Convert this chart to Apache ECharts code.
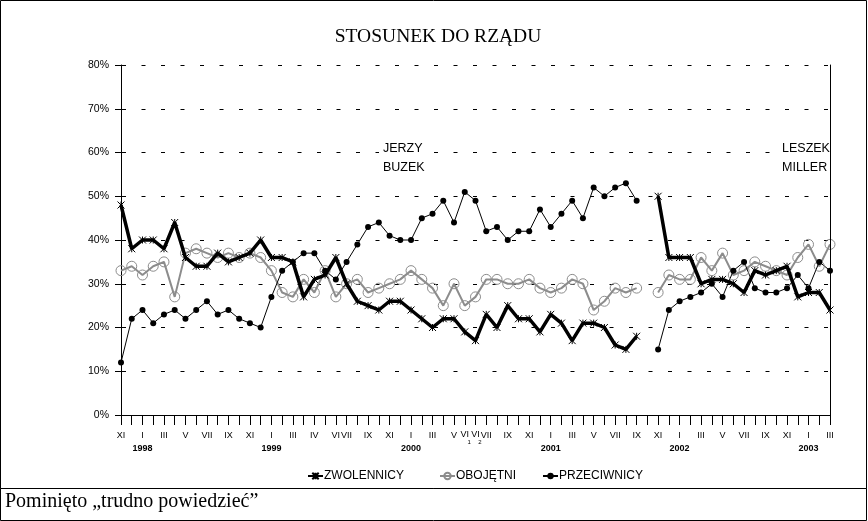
<!DOCTYPE html>
<html>
<head>
<meta charset="utf-8">
<script src="https://cdn.jsdelivr.net/npm/echarts@6.0.0/dist/echarts.min.js"></script>
<style>
  html, body { margin: 0; padding: 0; background: #fff; }
  #chart { width: 868px; height: 521px; }
</style>
</head>
<body>
<div id="chart"></div>
<script>
// kolejne badania: XI 1997 ... III 2003 (X 2001 brak)
const tickLabels = [
  'XI', '', 'I', '', 'III', '', 'V', '', 'VII', '', 'IX', '', 'XI', '',
  'I', '', 'III', '', 'IV', '', 'VI', 'VII', '', 'IX', '', 'XI', '',
  'I', '', 'III', '', 'V', 'VI1', 'VI2', 'VII', '', 'IX', '', 'XI', '',
  'I', '', 'III', '', 'V', '', 'VII', '', 'IX', '', 'XI', '',
  'I', '', 'III', '', 'V', '', 'VII', '', 'IX', '', 'XI', '',
  'I', '', 'III'
];
const yearLabels = { 2: '1998', 14: '1999', 27: '2000', 40: '2001', 52: '2002', 64: '2003' };
const categories = tickLabels.map((_, i) => 'p' + i);

const zwolennicy = [
  48, 38, 40, 40, 38, 44, 36, 34, 34, 37, 35, 36, 37, 40,
  36, 36, 35, 27, 31, 32, 36, 30, 26, 25, 24, 26, 26,
  24, 22, 20, 22, 22, 19, 17, 23, 20, 25, 22, 22, 19,
  23, 21, 17, 21, 21, 20, 16, 15, 18, null, 50, 36,
  36, 36, 30, 31, 31, 30, 28, 33, 32, 33, 34, 27,
  28, 28, 24
];
const obojetni = [
  33, 34, 32, 34, 35, 27, 37, 38, 37, 36, 37, 36, 37, 36,
  33, 28, 27, 31, 28, 33, 27, 30, 31, 28, 29, 30, 31,
  33, 31, 29, 25, 30, 25, 27, 31, 31, 30, 30, 31, 29,
  28, 29, 31, 30, 24, 26, 29, 28, 29, null, 28, 32,
  31, 31, 36, 33, 37, 32, 33, 35, 34, 33, 32, 36,
  39, 34, 39
];
const przeciwnicy = [
  12, 22, 24, 21, 23, 24, 22, 24, 26, 23, 24, 22, 21, 20,
  27, 33, 35, 37, 37, 33, 31, 35, 39, 43, 44, 41, 40,
  40, 45, 46, 49, 44, 51, 49, 42, 43, 40, 42, 42, 47,
  43, 46, 49, 45, 52, 50, 52, 53, 49, null, 15, 24,
  26, 27, 28, 30, 27, 33, 35, 29, 28, 28, 29, 32,
  29, 35, 33
];

const FONT = 'Liberation Sans, Arial, sans-serif';
const SERIF = 'Liberation Serif, Times New Roman, serif';
const starPath = 'path://M0,0L10,10M10,0L0,10M5,0L5,10';

const chart = echarts.init(document.getElementById('chart'));

const legendBase = {
  top: 465,
  itemWidth: 15,
  itemHeight: 8,
  textStyle: { fontFamily: FONT, fontSize: 12, color: '#000', padding: [0, 0, 0, -4] }
};

chart.setOption({
  animation: false,
  backgroundColor: '#fff',
  title: {
    text: 'STOSUNEK DO RZĄDU',
    left: 433,
    top: 22,
    textAlign: 'center',
    textStyle: { fontFamily: SERIF, fontSize: 19.5, fontWeight: 'normal', color: '#000' }
  },
  legend: [
    Object.assign({ left: 302, data: ['ZWOLENNICY'] }, legendBase),
    Object.assign({ left: 434, data: ['OBOJĘTNI'] }, legendBase),
    Object.assign({ left: 537, data: ['PRZECIWNICY'] }, legendBase)
  ],
  grid: { left: 121, right: 38, top: 65, bottom: 106, containLabel: false },
  xAxis: {
    type: 'category',
    data: categories,
    boundaryGap: false,
    axisLine: { lineStyle: { color: '#000', width: 1 } },
    axisTick: { show: true, interval: 0, length: 10, lineStyle: { color: '#000' } },
    axisLabel: {
      interval: 0,
      hideOverlap: false,
      margin: 15,
      formatter: (v, i) => {
        const t = tickLabels[i];
        if (!t) return '';
        if (t === 'VI1' || t === 'VI2') return '{v|VI}\n{s|' + t.slice(2) + '}';
        let s = '{m|' + t + '}';
        if (yearLabels[i]) s += '\n{y|' + yearLabels[i] + '}';
        return s;
      },
      rich: {
        m: { fontFamily: FONT, fontSize: 9, lineHeight: 12, color: '#000' },
        v: { fontFamily: FONT, fontSize: 9, lineHeight: 10, color: '#000' },
        y: { fontFamily: FONT, fontSize: 9, fontWeight: 'bold', lineHeight: 14, color: '#000' },
        s: { fontFamily: FONT, fontSize: 6, lineHeight: 4, color: '#000', padding: [0, 0, 0, 9] }
      }
    },
    splitLine: { show: false }
  },
  yAxis: [
    {
      type: 'value',
      min: 0,
      max: 80,
      interval: 10,
      axisLine: { show: true, lineStyle: { color: '#000' } },
      axisTick: { show: true, length: 6, lineStyle: { color: '#000' } },
      axisLabel: {
        margin: 12,
        formatter: '{value}%',
        fontFamily: FONT,
        fontSize: 10.5,
        color: '#000'
      },
      splitLine: {
        show: true,
        lineStyle: { color: '#000', width: 1, type: [4, 15.5], dashOffset: -1 }
      }
    },
    {
      type: 'value',
      position: 'right',
      min: 0,
      max: 80,
      interval: 10,
      z: 20,
      axisLine: { show: true, lineStyle: { color: '#000' } },
      axisTick: { show: false },
      axisLabel: { show: false },
      splitLine: { show: false }
    }
  ],
  series: [
    {
      name: 'ZWOLENNICY',
      type: 'line',
      data: zwolennicy,
      connectNulls: false,
      symbol: starPath,
      symbolSize: 7,
      showAllSymbol: true,
      lineStyle: { color: '#000', width: 3.5 },
      itemStyle: { color: '#000', borderColor: '#000', borderWidth: 1 },
      z: 4
    },
    {
      name: 'OBOJĘTNI',
      type: 'line',
      data: obojetni,
      connectNulls: false,
      symbol: 'circle',
      symbolSize: 10,
      showAllSymbol: true,
      lineStyle: { color: '#8c8c8c', width: 2 },
      itemStyle: { color: 'rgba(0,0,0,0)', borderColor: '#8c8c8c', borderWidth: 1 },
      z: 3
    },
    {
      name: 'PRZECIWNICY',
      type: 'line',
      data: przeciwnicy,
      connectNulls: false,
      symbol: 'circle',
      symbolSize: 6,
      showAllSymbol: true,
      lineStyle: { color: '#000', width: 1 },
      itemStyle: { color: '#000' },
      z: 3
    }
  ],
  graphic: [
    { type: 'rect', shape: { x: 0.5, y: 0.5, width: 866, height: 488 }, style: { fill: null, stroke: '#000', lineWidth: 1 }, silent: true },
    { type: 'rect', shape: { x: 0.5, y: 488.5, width: 866, height: 32 }, style: { fill: null, stroke: '#000', lineWidth: 1 }, silent: true },
    { type: 'text', left: 5, top: 492, style: { text: 'Pominięto „trudno powiedzieć”', font: '20px ' + SERIF, fill: '#000' } },
    {
      type: 'text', left: 379, top: 137, z: 10,
      style: { text: 'JERZY\nBUZEK', font: '12.5px ' + FONT, lineHeight: 19, fill: '#000', backgroundColor: '#fff', padding: [2, 4] }
    },
    {
      type: 'text', left: 779, top: 137, z: 10,
      style: { text: 'LESZEK\nMILLER', font: '12.5px ' + FONT, lineHeight: 19, fill: '#000', backgroundColor: '#fff', padding: [2, 1, 2, 3] }
    }
  ]
});
</script>
</body>
</html>
